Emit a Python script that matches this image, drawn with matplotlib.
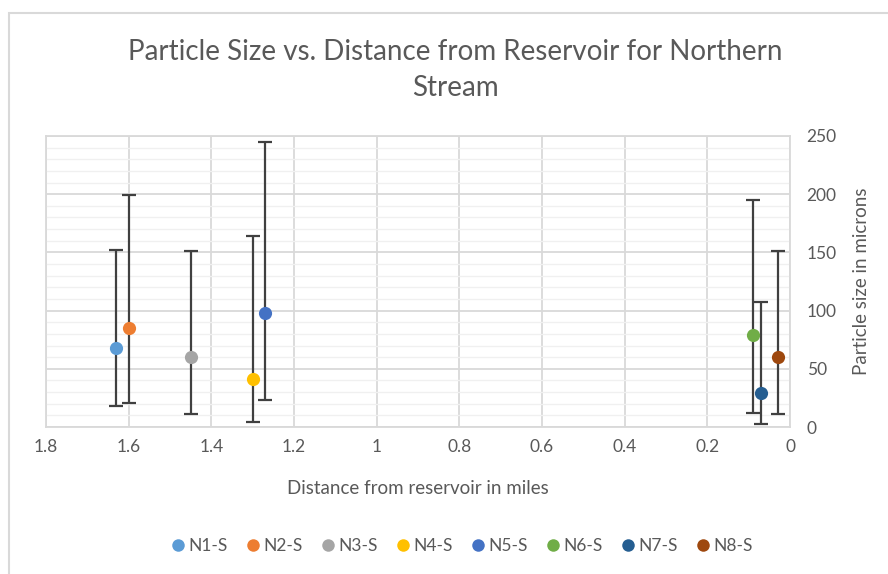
import numpy as np
import matplotlib.pyplot as plt
from matplotlib.patches import Rectangle
from matplotlib.lines import Line2D

plt.rcParams['font.family'] = ['Lato', 'DejaVu Sans']

# data
labels = ['N1-S', 'N2-S', 'N3-S', 'N4-S', 'N5-S', 'N6-S', 'N7-S', 'N8-S']
distance = [1.63, 1.60, 1.45, 1.30, 1.27, 0.09, 0.07, 0.03]
size = [68, 85, 60, 41, 98, 79, 29, 60]
upper = [152, 199, 151, 164, 245, 195, 107, 151]
lower = [18, 21, 11, 4, 23, 12, 3, 11]
colors = ['#5B9BD5', '#ED7D31', '#A5A5A5', '#FFC000',
          '#4472C4', '#70AD47', '#255E91', '#9E480E']

grey = '#595959'

fig = plt.figure(figsize=(8.88, 5.74), dpi=100)
ax = fig.add_axes([46 / 888, 1 - 427 / 574, (790 - 46) / 888, (427 - 136) / 574])

# chart border (cropped on the right and bottom in the reference)
fig.patches.append(Rectangle((9 / 888, -0.1), 1.1, 1 - 13 / 574 + 0.1,
                             transform=fig.transFigure, fill=False,
                             edgecolor='#D9D9D9', lw=1.5))

for x, y, hi, lo, c in zip(distance, size, upper, lower, colors):
    ax.errorbar([x], [y], yerr=[[y - lo], [hi - y]], fmt='none',
                ecolor='#404040', elinewidth=1.6, capsize=5, capthick=1.6, zorder=3)
    ax.plot([x], [y], 'o', color=c, ms=9.5, mew=0, zorder=4)

ax.set_xlim(1.8, 0)
ax.set_ylim(0, 250)
ax.set_xticks(np.arange(0, 1.81, 0.2))
ax.set_xticklabels(['0', '0.2', '0.4', '0.6', '0.8', '1', '1.2', '1.4', '1.6', '1.8'])
ax.set_yticks(np.arange(0, 251, 50))
ax.set_yticks(np.arange(0, 251, 10), minor=True)

ax.yaxis.tick_right()
ax.yaxis.set_label_position('right')
ax.tick_params(which='both', length=0, labelsize=12.5, labelcolor=grey, pad=9)
ax.tick_params(axis='y', pad=12)

ax.grid(which='major', color='#D9D9D9', lw=1.3, zorder=0)
ax.grid(which='minor', axis='y', color='#F0F0F0', lw=1.0, zorder=0)
ax.set_axisbelow(True)
for s in ax.spines.values():
    s.set_color('#D9D9D9')
    s.set_linewidth(1.3)

ax.set_xlabel('Distance from reservoir in miles', fontsize=13.5, color=grey, labelpad=18)
ax.set_ylabel('Particle size in microns', fontsize=13.5, color=grey, labelpad=12)

fig.text(455 / 888, 1 - 70 / 574,
         'Particle Size vs. Distance from Reservoir for Northern\nStream',
         ha='center', va='center', fontsize=20, color=grey, linespacing=1.5)

handles = [Line2D([], [], marker='o', ls='none', color=c, ms=9, mew=0) for c in colors]
ax.legend(handles, labels, loc='center', bbox_to_anchor=(460 / 888, 1 - 546 / 574),
          bbox_transform=fig.transFigure, ncol=8, frameon=False,
          fontsize=12.5, labelcolor=grey, handletextpad=0.0,
          columnspacing=0.85, handlelength=1.2)

fig.savefig('out.png', dpi=100)
